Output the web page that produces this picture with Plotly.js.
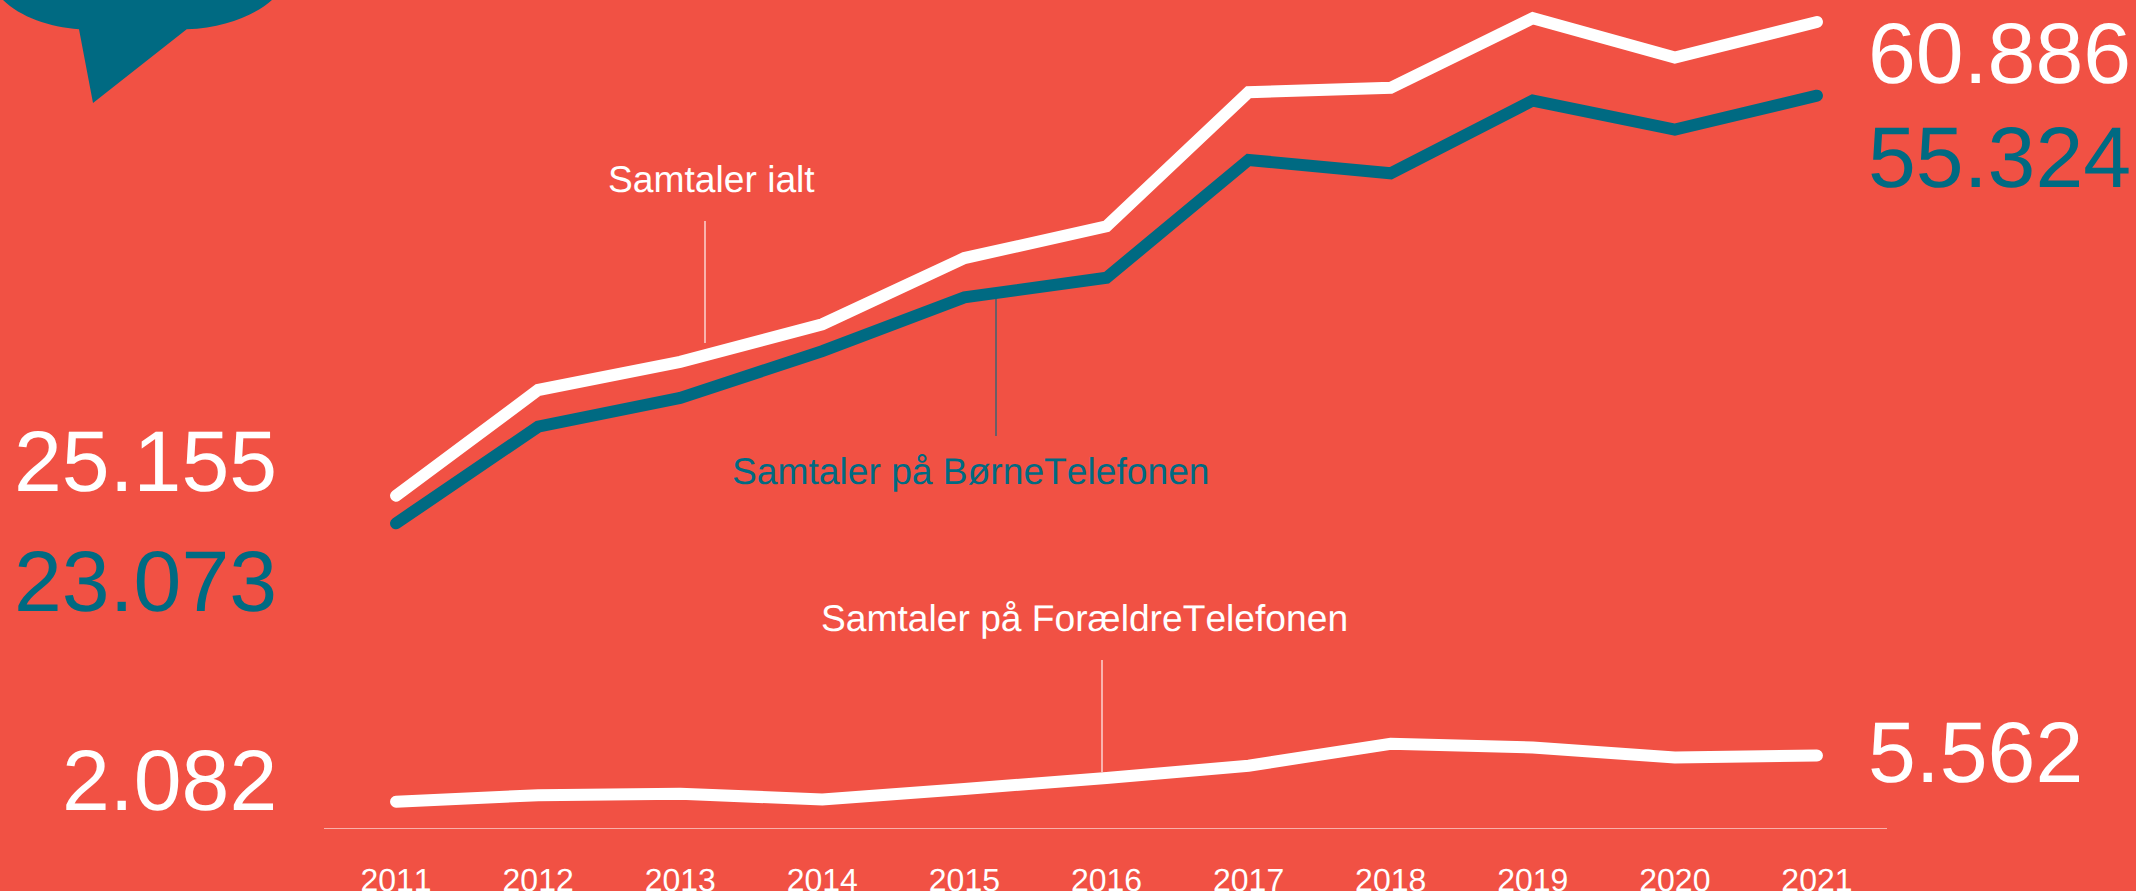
<!DOCTYPE html>
<html>
<head>
<meta charset="utf-8">
<script src="https://cdn.plot.ly/plotly-3.0.1.min.js"></script>
<style>
html,body{margin:0;padding:0;background:#F15144;overflow:hidden}
.js-line{stroke-linecap:round !important;stroke-linejoin:miter !important}
text{font-kerning:none;text-rendering:geometricPrecision}
</style>
</head>
<body>
<div id="chart" style="width:2136px;height:891px"></div>
<script>
const years = [2011,2012,2013,2014,2015,2016,2017,2018,2019,2020,2021];
const total = [25155,33130,35250,38090,43080,45470,55590,55920,61170,58200,60886];
const child = [23073,30360,32530,36060,40120,41590,50480,49470,54960,52770,55324];
const parent = [2082,2575,2680,2250,3040,3870,4795,6455,6170,5415,5562];
const seriesNames = ['Samtaler ialt','Samtaler på BørneTelefonen','Samtaler på ForældreTelefonen'];

const BG = '#F15144', TEAL = '#006A82', WHITE = '#FFFFFF', FONT = '"Liberation Sans", Arial, sans-serif';
const W = 2136, H = 891, L = 324, R = 1887, B = 828, T = 0;
const px = x => (x - L) / (R - L);
const py = y => (B - y) / (B - T);
const fmt = v => String(v).replace(/(\d)(\d{3})$/, '$1.$2');

const trace = (y, color, name) => ({x: years, y, name, mode: 'lines', hoverinfo: 'skip',
  line: {color, width: 12, simplify: false}, cliponaxis: false});

const big = (v, x, y, color, anchor) => ({text: fmt(v), xref: 'paper', yref: 'paper', x: px(x), y: py(y),
  xanchor: anchor, yanchor: 'middle', showarrow: false, font: {family: FONT, size: 86, color}});
const label = (t, x, y, color) => ({text: t, xref: 'paper', yref: 'paper', x: px(x), y: py(y),
  xanchor: 'center', yanchor: 'middle', showarrow: false, font: {family: FONT, size: 37.2, color}});
const leader = (x, y0, y1, color) => ({type: 'line', xref: 'paper', yref: 'paper', x0: px(x), x1: px(x),
  y0: py(y0), y1: py(y1), line: {color, width: 1.5}, opacity: 0.75, layer: 'below'});

const p = (x, y) => px(x).toFixed(5) + ',' + py(y).toFixed(5);
const bubble = 'M' + p(3,0) + ' C' + p(20,17) + ' ' + p(50,27) + ' ' + p(79,29.3) +
  ' L' + p(93,103) + ' L' + p(186.7,29.3) + ' C' + p(225,28) + ' ' + p(255,15) + ' ' + p(272,0) + ' Z';

const layout = {
  width: W, height: H, paper_bgcolor: BG, plot_bgcolor: BG, showlegend: false,
  margin: {l: L, r: W - R, t: T, b: H - B, pad: 0},
  font: {family: FONT, color: WHITE},
  xaxis: {range: [2010.493, 2021.493], tickvals: years, ticktext: years.map(String), showgrid: false, zeroline: false,
    showline: true, linecolor: 'rgba(255,255,255,0.55)', linewidth: 1, ticks: 'outside', ticklen: 24,
    tickcolor: 'rgba(0,0,0,0)', tickfont: {family: FONT, size: 32, color: WHITE}},
  yaxis: {range: [98, 62541], visible: false, showgrid: false, zeroline: false},
  shapes: [
    {type: 'path', xref: 'paper', yref: 'paper', path: bubble, fillcolor: TEAL, line: {width: 0}, layer: 'below'},
    leader(705, 221, 343, WHITE),
    leader(996, 298, 436, TEAL),
    leader(1102, 660, 772, WHITE)
  ],
  annotations: [
    big(total[0], 278.5, 462, WHITE, 'right'),
    big(child[0], 278.5, 582, TEAL, 'right'),
    big(parent[0], 278.5, 781, WHITE, 'right'),
    big(total[10], 1866, 54, WHITE, 'left'),
    big(child[10], 1866, 158, TEAL, 'left'),
    big(parent[10], 1866, 753, WHITE, 'left'),
    label(seriesNames[0], 711, 179, WHITE),
    label(seriesNames[1], 971, 471, TEAL),
    label(seriesNames[2], 1084, 618, WHITE)
  ]
};
Plotly.newPlot('chart', [trace(total, WHITE, seriesNames[0]), trace(child, TEAL, seriesNames[1]), trace(parent, WHITE, seriesNames[2])],
  layout, {displayModeBar: false, staticPlot: true});
</script>
</body>
</html>
